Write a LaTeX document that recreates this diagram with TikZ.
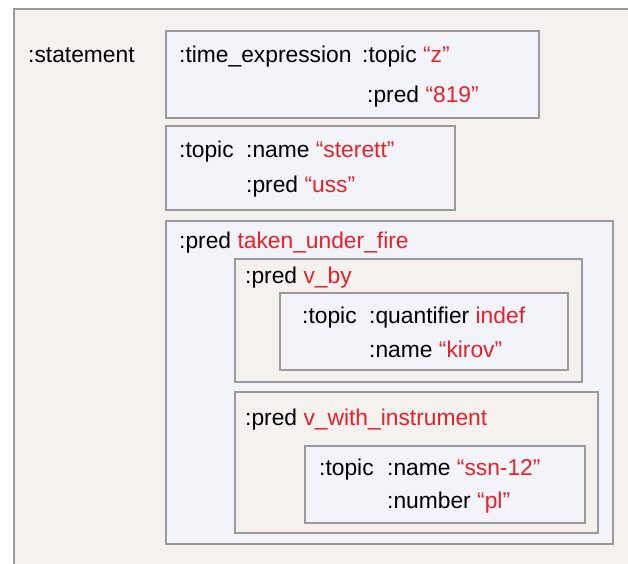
\documentclass[tikz,border=0pt]{standalone}
\usepackage{fontspec}
\setmainfont{Liberation Sans}
\usepackage{tikz}
\usetikzlibrary{positioning}

\definecolor{paper}{HTML}{F4F1EE}
\definecolor{pale}{HTML}{F3F4FA}
\definecolor{rim}{HTML}{9A9A9A}
\definecolor{val}{HTML}{E8202A}

\tikzset{
  lbl/.style={anchor=base west, inner sep=0pt, font=\fontsize{22.8}{27}\selectfont},
  palebox/.style={fill=pale, draw=rim, line width=1.2pt},
  paperbox/.style={fill=paper, draw=rim, line width=1.2pt}
}
\newcommand{\vl}[1]{\textcolor{val}{#1}}

\begin{document}
\begin{tikzpicture} [x=1pt, y=-1pt]

\useasboundingbox (0,0) rectangle (628,563);
\clip (0,0) rectangle (628,563);
%\draw [help lines, step=10pt](0,0) grid (628,563);
\fill [white] (0,0) rectangle (628,563);
\draw [paperbox] (14,9) rectangle (660,600);

\draw [palebox] (166,31) rectangle (539,118);
\draw [palebox] (166,126) rectangle (455,210);
\draw [palebox] (166,221) rectangle (613,544);
\draw [paperbox] (235,259) rectangle (582,382);
\draw [palebox] (280,293) rectangle (568,370);
\draw [paperbox] (235,392) rectangle (598,533);
\draw [palebox] (305,446) rectangle (585,523);

\node [lbl] (stmt) at (28,62) {:statement};

\node [lbl] (timex) at (179,62) {:time\_expression};
\node [lbl] (timetop) at (362,62) {:topic \vl{“z”}};
\node [lbl] (timepred) at (367,102) {:pred \vl{“819”}};

\node [lbl] (top) at (179,157) {:topic};
\node [lbl] (topname) at (246,157) {:name \vl{“sterett”}};
\node [lbl] (toppred) at (246,192) {:pred \vl{“uss”}};

\node [lbl] (pred) at (179,248) {:pred \vl{taken\_under\_fire}};
\node [lbl] (predby) at (245,283) {:pred \vl{v\_by}};
\node [lbl] (bytop) at (302,323) {:topic};
\node [lbl] (byquant) at (369,323) {:quantifier \vl{indef}};
\node [lbl] (byname) at (369,357) {:name \vl{“kirov”}};

\node [lbl] (predwith) at (245,425) {:pred \vl{v\_with\_instrument}};
\node [lbl] (withtop) at (319,475) {:topic};
\node [lbl] (withname) at (387,475) {:name \vl{“ssn-12”}};
\node [lbl] (withnum) at (387,508) {:number \vl{“pl”}};

\end{tikzpicture}
\end{document}
